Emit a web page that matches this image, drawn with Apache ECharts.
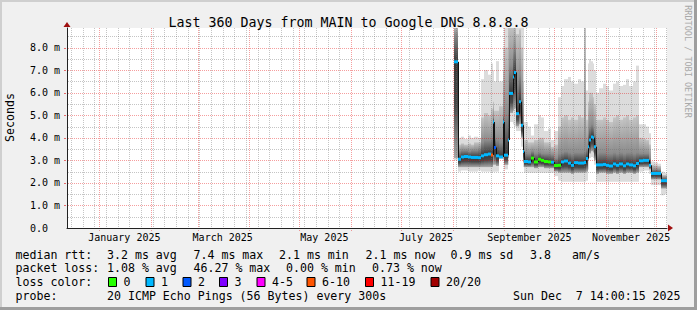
<!DOCTYPE html>
<html><head><meta charset="utf-8">
<script src="https://cdn.jsdelivr.net/npm/echarts@6/dist/echarts.min.js"></script>
<style>html,body{margin:0;padding:0;background:#f0f0f0}#c{width:697px;height:310px}</style>
</head><body><div id="c"></div>
<script>
// ---------------- data ----------------
const graphEnd = '2025-12-07 14:00:15';
const spanDays = 360;
const titleText = 'Last 360 Days from MAIN to Google DNS 8.8.8.8';
const yAxisName = 'Seconds';
const yMax = 8.87;

// time buckets (start of each bucket; a bucket ends where the next begins)
const bucketStart = [
 '2025-08-02','2025-08-04','2025-08-06','2025-08-08','2025-08-10','2025-08-12','2025-08-14','2025-08-16',
 '2025-08-18','2025-08-20','2025-08-22','2025-08-24','2025-08-25','2025-08-26','2025-08-27','2025-08-29',
 '2025-08-31','2025-09-01','2025-09-03','2025-09-04','2025-09-06','2025-09-07','2025-09-08','2025-09-10',
 '2025-09-11','2025-09-12','2025-09-13','2025-09-15','2025-09-17','2025-09-19','2025-09-21','2025-09-23',
 '2025-09-25','2025-09-27','2025-09-29','2025-10-01','2025-10-03','2025-10-05','2025-10-07','2025-10-09',
 '2025-10-11','2025-10-13','2025-10-15','2025-10-17','2025-10-19','2025-10-20','2025-10-21','2025-10-22',
 '2025-10-23','2025-10-24','2025-10-25','2025-10-26','2025-10-28','2025-10-30','2025-11-01','2025-11-03',
 '2025-11-05','2025-11-07','2025-11-09','2025-11-11','2025-11-13','2025-11-15','2025-11-17','2025-11-19',
 '2025-11-21','2025-11-23','2025-11-25','2025-11-27','2025-11-28','2025-11-30','2025-12-02','2025-12-04',
 '2025-12-06'];
const dataEnd = '2025-12-07 12:00';

// median RTT (ms)
const medianRtt = [
 7.37,3.05,3.15,3.17,3.15,3.13,3.13,3.12,
 3.20,3.25,3.28,3.24,4.70,3.57,3.20,3.15,
 4.70,3.23,3.90,5.97,6.70,6.90,5.07,5.60,
 4.56,3.39,2.95,2.93,3.10,2.93,3.05,3.00,
 2.95,2.93,2.92,2.77,2.78,2.93,2.97,2.88,
 2.78,2.90,2.88,2.88,2.90,3.08,3.60,3.90,
 4.04,4.00,3.60,2.80,2.80,2.82,2.78,2.75,
 2.84,2.78,2.84,2.76,2.84,2.80,2.76,2.86,
 2.98,3.00,3.00,2.78,2.42,2.42,2.42,2.10,
 2.10];
// loss level index per bucket (into lossLabels / lossColors)
const lossLevel = [
 1,1,1,1,1,1,1,1,
 1,1,1,5,1,2,1,1,
 1,1,1,1,1,1,1,1,
 1,1,1,1,0,0,0,0,
 0,0,1,0,0,1,1,1,
 1,1,1,1,1,1,1,1,
 1,1,1,1,1,1,1,1,
 1,1,1,1,1,1,1,1,
 1,1,1,1,1,1,1,1,
 1];
// smoke: lowest ping, lower dense edge, upper dark core, upper medium edge, highest ping (ms)
const smokeMin = [
 3.00,2.50,2.55,2.55,2.50,2.50,2.50,2.55,
 2.50,2.50,2.50,2.45,2.50,2.50,2.50,3.05,
 3.00,2.60,2.80,4.70,4.60,4.50,4.30,4.30,
 3.60,2.70,2.45,2.45,2.45,2.45,2.45,2.45,
 2.45,2.45,2.45,2.30,2.10,2.05,2.05,2.05,
 2.05,2.05,2.05,2.05,2.05,2.10,2.60,3.10,
 3.15,3.10,2.80,2.05,2.05,2.05,2.05,2.05,
 2.05,2.05,2.05,2.05,2.05,2.05,2.05,2.05,
 2.50,2.55,2.55,2.40,1.90,1.90,1.90,1.45,
 1.50];
const smokeLow = [
 3.10,2.70,2.70,2.70,2.70,2.70,2.70,2.70,
 2.70,2.70,2.70,2.70,2.80,2.80,2.75,3.10,
 3.10,2.80,3.10,5.10,5.20,5.30,4.50,4.60,
 4.00,2.90,2.70,2.70,2.70,2.65,2.70,2.70,
 2.65,2.65,2.65,2.50,2.45,2.45,2.45,2.45,
 2.40,2.45,2.45,2.45,2.45,2.50,3.00,3.30,
 3.40,3.35,3.00,2.40,2.45,2.45,2.40,2.40,
 2.45,2.40,2.45,2.40,2.45,2.45,2.40,2.45,
 2.70,2.70,2.70,2.60,2.15,2.15,2.15,1.75,
 1.75];
const smokeCore = [
 8.60,3.40,3.45,3.45,3.40,3.45,3.45,3.50,
 3.80,3.90,3.90,4.00,4.90,4.00,3.90,3.80,
 5.00,5.00,5.50,7.20,7.80,8.00,6.50,6.80,
 5.80,4.50,3.30,3.30,3.40,3.30,3.35,3.30,
 3.30,3.30,3.25,3.10,3.30,3.35,3.40,3.35,
 3.30,3.35,3.35,3.35,3.40,3.50,4.20,4.50,
 4.60,4.50,4.20,3.30,3.35,3.35,3.30,3.30,
 3.35,3.30,3.35,3.30,3.35,3.35,3.30,3.35,
 3.30,3.30,3.30,3.10,2.60,2.60,2.58,2.25,
 2.25];
const smokeMid = [
 9.00,3.70,3.75,3.70,3.75,3.70,3.80,3.80,
 4.90,5.10,5.00,5.30,5.60,5.20,5.20,5.40,
 7.00,8.00,9.00,9.00,9.00,9.00,8.60,8.80,
 8.00,6.50,3.90,3.80,3.80,3.90,4.00,4.00,
 3.80,3.80,3.60,3.70,4.50,4.90,5.00,4.80,
 4.90,4.80,5.00,4.90,9.00,4.80,5.60,6.00,
 6.00,5.80,5.50,4.80,4.80,4.90,4.80,4.70,
 4.90,5.00,4.80,4.90,5.00,4.80,4.90,5.00,
 4.00,3.95,3.90,3.70,2.80,2.78,2.75,2.35,
 2.35];
const smokeMax = [
 9.00,4.00,4.05,3.95,4.10,4.00,4.05,4.00,
 6.60,7.00,6.80,7.30,7.00,6.50,7.40,6.50,
 8.00,9.00,9.00,9.00,9.00,9.00,9.00,9.00,
 9.00,9.00,4.70,4.50,4.10,4.60,5.00,4.90,
 4.30,4.40,3.90,4.30,5.80,6.30,6.60,6.70,
 6.50,6.40,6.60,6.50,9.00,6.10,7.30,7.50,
 7.40,7.30,7.00,6.00,6.20,6.40,6.30,6.10,
 6.40,6.50,6.30,6.35,6.60,6.30,6.50,7.20,
 4.60,4.60,4.50,4.20,2.95,2.90,2.85,2.50,
 2.45];

// axis / grid
const yGridLevels = [0.5,1,1.5,2,2.5,3,3.5,4,4.5,5,5.5,6,6.5,7,7.5,8,8.5];
const monthStarts = ['2025-01-01','2025-02-01','2025-03-01','2025-04-01','2025-05-01','2025-06-01',
 '2025-07-01','2025-08-01','2025-09-01','2025-10-01','2025-11-01','2025-12-01'];
const firstWeekStart = '2024-12-15';
const monthLabelAt = ['2025-01-16','2025-03-16','2025-05-16','2025-07-16','2025-09-16','2025-11-16'];
const monthLabelText = ['January 2025','March 2025','May 2025','July 2025','September 2025','November 2025'];

// legend texts
const rttLabel = 'median rtt:';
const rttStats = ['3.2 ms avg','7.4 ms max','2.1 ms min','2.1 ms now','0.9 ms sd','3.8','am/s'];
const lossLabel = 'packet loss:';
const lossStats = ['1.08 % avg','46.27 % max','0.00 % min','0.73 % now'];
const lossColorLabel = 'loss color:';
const lossLabels = ['0','1','2','3','4-5','6-10','11-19','20/20'];
const lossColors = ['#26ff00','#00b8ff','#0059ff','#7e00ff','#ff00ff','#ff5500','#ff0000','#a10000'];
const probeLabel = 'probe:';
const probeText = '20 ICMP Echo Pings (56 Bytes) every 300s';
const stampText = 'Sun Dec  7 14:00:15 2025';
const watermark = 'RRDTOOL / TOBI OETIKER';

// ---------------- layout (pixels) ----------------
const L = {
  gridLeft: 67, gridRight: 30, gridTop: 28, gridBottom: 82,
  rttX: [107, 193.5, 279, 365.5, 450.5, 530, 572],
  lossX: [107, 193.5, 286, 372],
  boxX: [108, 145.5, 182.5, 219, 256.5, 306.5, 365, 430.5],
  rowY: [254.5, 268, 282, 296],
  legendLeft: 15.5, probeX: 107, stampX: 513
};
const MONO = 'DejaVu Sans Mono';
const RED_GRID = 'rgba(230,0,0,0.38)';
const GRAY_GRID = 'rgba(110,110,110,0.4)';
const RED_TICK = 'rgba(220,0,0,0.55)';

// ---------------- helpers ----------------
function ts(s) {
  const m = s.match(/(\d+)-(\d+)-(\d+)(?:[ T](\d+):(\d+)(?::(\d+))?)?/);
  return Date.UTC(+m[1], +m[2] - 1, +m[3], +(m[4] || 0), +(m[5] || 0), +(m[6] || 0));
}
const DAY = 86400000;
const T1 = ts(graphEnd);
const T0 = T1 - spanDays * DAY;
const TMID = (T0 + T1) / 2;

const smokeData = bucketStart.map((s, i) => [
  ts(s), ts(i + 1 < bucketStart.length ? bucketStart[i + 1] : dataEnd),
  smokeMin[i], smokeLow[i], medianRtt[i], smokeCore[i], smokeMid[i], smokeMax[i]
]);
const medianData = bucketStart.map((s, i) => [
  ts(s), ts(i + 1 < bucketStart.length ? bucketStart[i + 1] : dataEnd),
  medianRtt[i], i > 0 ? medianRtt[i - 1] : medianRtt[i], lossLevel[i]
]);
const gridTimes = [];
for (let t = ts(firstWeekStart); t <= T1; t += 7 * DAY) gridTimes.push([t, 0]);
monthStarts.forEach(s => {
  const t = ts(s);
  const w = gridTimes.find(g => g[0] === t);
  if (w) w[1] = 1; else gridTimes.push([t, 1]);
});
const hGridData = yGridLevels.map(v => [TMID, v]);
const labelTimes = monthLabelAt.map(ts);

function clampStop(v) { return Math.max(0, Math.min(1, v)); }

function renderSmoke(params, api) {
  const x0 = Math.round(api.coord([api.value(0), 0])[0]);
  const x1 = Math.round(api.coord([api.value(1), 0])[0]);
  const y = v => api.coord([api.value(0), v])[1];
  const yMin = y(api.value(2)), yLow = y(api.value(3)), yMed = y(api.value(4));
  const yCore = y(api.value(5)), yMid = y(api.value(6)), yMaxP = y(api.value(7));
  const h = yLow - yMid;
  const pc = clampStop((yCore - yMid) / h);
  const pm = clampStop((yMed - yMid) / h);
  const pd = clampStop(pm + (1 - pm) * 0.45);
  return {
    type: 'group',
    children: [
      { type: 'rect', shape: { x: x0, y: yMaxP, width: x1 - x0, height: yMin - yMaxP },
        style: { fill: '#dcdcdc' } },
      { type: 'rect', shape: { x: x0, y: yMid, width: x1 - x0, height: h },
        style: { fill: { type: 'linear', x: 0, y: 0, x2: 0, y2: 1, colorStops: [
          { offset: 0, color: '#c4c4c4' },
          { offset: pc, color: '#8c8c8c' },
          { offset: pm, color: '#383838' },
          { offset: pd, color: '#484848' },
          { offset: 1, color: '#a8a8a8' } ] } } }
    ]
  };
}

function renderMedian(params, api) {
  const x0 = Math.round(api.coord([api.value(0), 0])[0]);
  const x1 = Math.round(api.coord([api.value(1), 0])[0]);
  const yM = api.coord([api.value(0), api.value(2)])[1];
  const yP = api.coord([api.value(0), api.value(3)])[1];
  const color = lossColors[api.value(4)];
  return {
    type: 'group',
    children: [
      { type: 'line', shape: { x1: x0 + 0.5, y1: yP, x2: x0 + 0.5, y2: yM },
        style: { stroke: '#111', lineWidth: 1 } },
      { type: 'rect', shape: { x: x0, y: yM - 1.5, width: x1 - x0, height: 3 },
        style: { fill: color } }
    ]
  };
}

// vertical dotted grid (weeks grey, months red)
function renderVGrid(params, api) {
  const cs = params.coordSys;
  const x = Math.round(api.coord([api.value(0), 0])[0]) + 0.5;
  const major = api.value(1) === 1;
  return {
    type: 'line',
    shape: { x1: x, y1: cs.y, x2: x, y2: cs.y + cs.height + (major ? 3 : 0) },
    style: { stroke: major ? RED_GRID : GRAY_GRID, lineWidth: 1, lineDash: [1, 1] }
  };
}

// horizontal dotted grid (halves grey, integers red) with small tick left of the axis at integers
function renderHGrid(params, api) {
  const cs = params.coordSys;
  const v = api.value(1);
  const y = Math.round(api.coord([api.value(0), v])[1]);
  const major = Math.abs(v - Math.round(v)) < 1e-6;
  let d = '';
  for (let x = Math.round(cs.x) + 1; x < cs.x + cs.width; x += 2) d += 'M' + x + ' ' + y + 'h1v1h-1z';
  const children = [{ type: 'path', shape: { pathData: d }, style: { fill: major ? RED_GRID : GRAY_GRID } }];
  if (major) {
    const xl = Math.round(cs.x);
    children.push({ type: 'rect', shape: { x: xl - 3, y: y, width: 2, height: 1 }, style: { fill: RED_TICK } });
  }
  return { type: 'group', children: children };
}

function fmtY(v) {
  if (Math.abs(v - Math.round(v)) > 1e-6) return '';
  return v === 0 ? '0.0\u00a0\u00a0' : v.toFixed(1) + ' m';
}
function fmtX(v) {
  const i = labelTimes.indexOf(v);
  return i >= 0 ? monthLabelText[i] : '';
}

// ---------------- graphics (legend etc.) ----------------
const txt = (text, x, y, extra) => Object.assign({
  type: 'text', x: x, y: y, silent: true,
  style: Object.assign({ text: text, fontFamily: MONO, fontSize: 11.6, fill: '#000',
    align: 'left', verticalAlign: 'middle' }, (extra && extra.style) || {})
}, extra ? { rotation: extra.rotation || 0 } : {});

const graphics = [
  { type: 'rect', shape: { x: 0, y: 0, width: 697, height: 2 }, style: { fill: '#cfcfcf' }, silent: true },
  { type: 'rect', shape: { x: 0, y: 0, width: 2, height: 310 }, style: { fill: '#cfcfcf' }, silent: true },
  { type: 'rect', shape: { x: 0, y: 307, width: 697, height: 3 }, style: { fill: '#9e9e9e' }, silent: true },
  { type: 'rect', shape: { x: 694, y: 0, width: 3, height: 310 }, style: { fill: '#9e9e9e' }, silent: true },
  txt(yAxisName, 10, 117.5, { rotation: Math.PI / 2, style: { align: 'center' } }),
  txt(watermark, 687.5, 61.5, { rotation: -Math.PI / 2, style: { align: 'center', fontSize: 8.5, fill: '#a8a8a8' } }),
  txt(rttLabel, L.legendLeft, L.rowY[0]),
  txt(lossLabel, L.legendLeft, L.rowY[1]),
  txt(lossColorLabel, L.legendLeft, L.rowY[2]),
  txt(probeLabel, L.legendLeft, L.rowY[3]),
  txt(probeText, L.probeX, L.rowY[3]),
  txt(stampText.replace(/ /g, '\u00a0'), L.stampX, L.rowY[3])
];
rttStats.forEach((s, i) => graphics.push(txt(s, L.rttX[i], L.rowY[0])));
lossStats.forEach((s, i) => graphics.push(txt(s, L.lossX[i], L.rowY[1])));
lossLabels.forEach((s, i) => {
  graphics.push({ type: 'rect', silent: true,
    shape: { x: L.boxX[i] + 0.5, y: L.rowY[2] - 4.5, width: 8, height: 9 },
    style: { fill: lossColors[i], stroke: '#000', lineWidth: 1 } });
  graphics.push(txt(s, L.boxX[i] + 15.5, L.rowY[2]));
});

// ---------------- chart ----------------
const chart = echarts.init(document.getElementById('c'), null, { renderer: 'svg', width: 697, height: 310 });
chart.setOption({
  animation: false,
  backgroundColor: '#f0f0f0',
  title: {
    text: titleText, left: 'center', top: 11,
    textStyle: { fontFamily: MONO, fontSize: 13.3, fontWeight: 'normal', color: '#000' }
  },
  grid: {
    left: L.gridLeft, right: L.gridRight, top: L.gridTop, bottom: L.gridBottom,
    show: true, backgroundColor: '#ffffff', borderWidth: 0, outerBoundsMode: 'none'
  },
  xAxis: [{
    type: 'value', min: T0, max: T1, z: 5,
    axisLine: { show: true, onZero: false, lineStyle: { color: '#222', width: 1 } },
    axisTick: { show: false }, splitLine: { show: false },
    axisLabel: { customValues: labelTimes, formatter: fmtX, margin: 4,
      fontFamily: MONO, fontSize: 10, color: '#000' }
  }, {
    type: 'value', min: T0, max: T1, position: 'bottom', z: 5,
    axisLine: { show: true, onZero: false, symbol: ['none', 'triangle'], symbolSize: [7, 5], symbolOffset: [0, 3.5],
      lineStyle: { color: '#a01010', width: 0 } },
    axisTick: { show: false }, splitLine: { show: false }, axisLabel: { show: false }
  }],
  yAxis: [{
    type: 'value', min: 0, max: yMax, interval: 0.5, z: 5,
    axisLine: { show: true, onZero: false, lineStyle: { color: '#222', width: 1 } },
    axisTick: { show: false },
    axisLabel: { formatter: fmtY, margin: 7, fontFamily: MONO, fontSize: 10, color: '#000', showMaxLabel: false },
    splitLine: { show: false }
  }, {
    type: 'value', min: 0, max: yMax, position: 'left', z: 5,
    axisLine: { show: true, onZero: false, symbol: ['none', 'triangle'], symbolSize: [7, 5], symbolOffset: [0, 3.5],
      lineStyle: { color: '#a01010', width: 0 } },
    axisTick: { show: false }, splitLine: { show: false }, axisLabel: { show: false }
  }],
  series: [
    { type: 'custom', name: 'smoke', renderItem: renderSmoke, data: smokeData, clip: true, z: 2,
      encode: { x: [0, 1], y: [2, 7] }, silent: true },
    { type: 'custom', name: 'vgrid', renderItem: renderVGrid, data: gridTimes, clip: false, z: 3,
      encode: { x: 0, y: 1 }, silent: true },
    { type: 'custom', name: 'hgrid', renderItem: renderHGrid, data: hGridData, clip: false, z: 3,
      encode: { x: 0, y: 1 }, silent: true },
    { type: 'custom', name: 'median', renderItem: renderMedian, data: medianData, clip: true, z: 4,
      encode: { x: [0, 1], y: [2, 3] }, silent: true }
  ],
  graphic: graphics
});
</script></body></html>
